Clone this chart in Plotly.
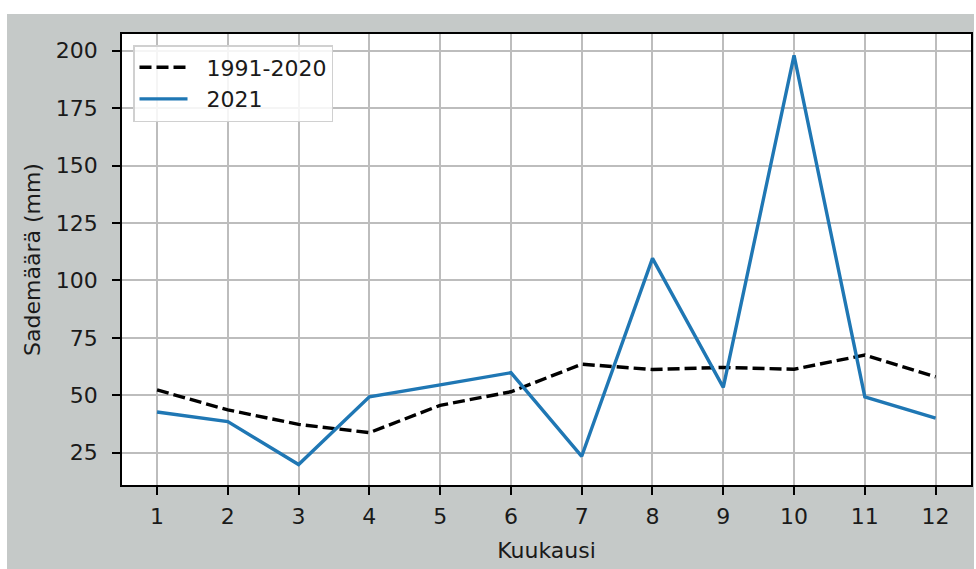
import plotly.graph_objects as go

months = list(range(1, 13))
normal_1991_2020 = [52.3, 43.6, 37.3, 33.7, 45.6, 51.5, 63.5, 61.2, 62.1, 61.3, 67.5, 58.0]
rain_2021 = [42.7, 38.5, 19.8, 49.3, 54.5, 59.8, 23.4, 109.6, 53.4, 198.0, 49.3, 40.0]
y_ticks = [25, 50, 75, 100, 125, 150, 175, 200]
series_names = ["1991-2020", "2021"]

W, H = 976, 569
L, R, T, B = 122, 5, 34, 84
pw, ph = W - L - R, H - T - B

def px_x(x):
    return (x - L) / pw

def px_y(y):
    return (H - B - y) / ph

FONT = "DejaVu Sans"
FS = 22
TXT = "#1a1a1a"
GRAY = "#c5c9c8"
PAD = "\u00a0\u00a0"

fig = go.Figure()
fig.add_trace(go.Scatter(x=months, y=normal_1991_2020, mode="lines", name=PAD + series_names[0],
                         line=dict(color="black", width=3.4, dash="12px,5px")))
fig.add_trace(go.Scatter(x=months, y=rain_2021, mode="lines", name=PAD + series_names[1],
                         line=dict(color="#1f77b4", width=3.4)))

shapes = [
    dict(type="rect", xref="paper", yref="paper", x0=px_x(0), x1=px_x(W), y0=px_y(14), y1=px_y(0),
         fillcolor="white", line=dict(width=0), layer="below"),
    dict(type="rect", xref="paper", yref="paper", x0=px_x(0), x1=px_x(7), y0=px_y(H), y1=px_y(0),
         fillcolor="white", line=dict(width=0), layer="below"),
    dict(type="rect", xref="paper", yref="paper", x0=px_x(974), x1=px_x(W), y0=px_y(H), y1=px_y(0),
         fillcolor="white", line=dict(width=0), layer="below"),
]

fig.update_layout(
    width=W, height=H,
    margin=dict(l=L, r=R, t=T, b=B, autoexpand=False),
    paper_bgcolor=GRAY, plot_bgcolor="white",
    font=dict(family=FONT, size=FS, color=TXT),
    shapes=shapes,
    showlegend=True,
    legend=dict(x=px_x(133), y=px_y(45), xanchor="left", yanchor="top",
                bgcolor="rgba(255,255,255,0.85)", bordercolor="#d0d0d0", borderwidth=1.5,
                font=dict(family=FONT, size=FS, color=TXT),
                tracegroupgap=0, itemwidth=48),
    xaxis=dict(range=[0.505, 12.5], tickmode="array", tickvals=months,
               ticktext=[str(m) for m in months],
               showgrid=True, gridcolor="#bdbdbd", gridwidth=1.6,
               showline=True, linecolor="black", linewidth=1.8, mirror=True,
               ticks="outside", ticklen=8, tickwidth=1.8, tickcolor="black",
               ticklabelstandoff=3,
               tickfont=dict(family=FONT, size=FS, color=TXT),
               title=dict(text="Kuukausi", font=dict(family=FONT, size=FS, color=TXT), standoff=14),
               zeroline=False, automargin=False),
    yaxis=dict(range=[10.9, 207.3], tickmode="array", tickvals=y_ticks,
               showgrid=True, gridcolor="#bdbdbd", gridwidth=1.6,
               showline=True, linecolor="black", linewidth=1.8, mirror=True,
               ticks="outside", ticklen=8, tickwidth=1.8, tickcolor="black",
               ticklabelstandoff=10,
               tickfont=dict(family=FONT, size=FS, color=TXT),
               title=dict(text="Sademäärä (mm)", font=dict(family=FONT, size=FS, color=TXT), standoff=9),
               zeroline=False, automargin=False),
)

fig.write_html("out.html", config={"displayModeBar": False},
               post_script="document.body.style.margin='0';")
